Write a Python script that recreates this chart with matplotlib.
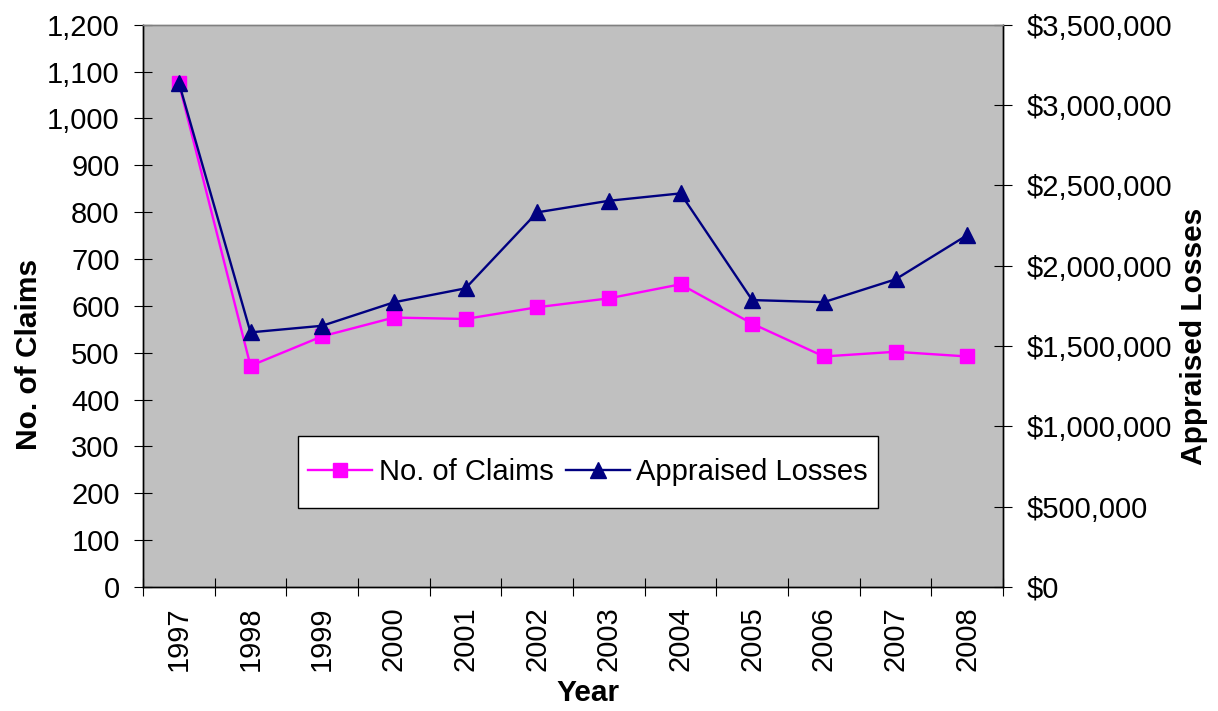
import matplotlib
matplotlib.use("Agg")
import matplotlib.pyplot as plt
from matplotlib.ticker import FuncFormatter, FixedLocator
from matplotlib.patches import Rectangle
import numpy as np

years = ["1997", "1998", "1999", "2000", "2001", "2002", "2003", "2004", "2005", "2006", "2007", "2008"]
claims = [1075, 472, 535, 575, 572, 597, 616, 646, 562, 492, 502, 492]
losses = [3140000, 1585000, 1626000, 1772000, 1859000, 2332000, 2404000, 2450000, 1786000, 1773000, 1915000, 2190000]

plt.rcParams['font.family'] = ['Liberation Sans', 'DejaVu Sans']

fig = plt.figure(figsize=(12.18, 7.11), dpi=100)
ax = fig.add_axes([143/1218, 124/711, 860/1218, 562.3/711])
ax2 = ax.twinx()

x = np.arange(len(years))
l1, = ax.plot(x, claims, color='#FF00FF', lw=1.7, marker='s', ms=10,
              mec='#FF00FF', mfc='#FF00FF', label='No. of Claims', zorder=3)
l2, = ax2.plot(x, losses, color='#000080', lw=1.7, marker='^', ms=11.5,
               mec='#000080', mfc='#000080', label='Appraised Losses', zorder=3)

ax.set_facecolor('#C0C0C0')
ax2.patch.set_visible(False)
ax.set_xlim(-0.5, len(years) - 0.5)
ax.set_ylim(0, 1200)
ax2.set_ylim(0, 3500000)

ax.set_yticks(np.arange(0, 1201, 100))
ax2.set_yticks(np.arange(0, 3500001, 500000))
ax.yaxis.set_major_formatter(FuncFormatter(lambda v, p: f"{int(v):,}"))
ax2.yaxis.set_major_formatter(FuncFormatter(lambda v, p: f"${int(v):,}"))

ax.set_xticks(x)
ax.set_xticklabels(years, rotation=90)
ax.xaxis.set_minor_locator(FixedLocator(np.arange(-0.5, len(years), 1.0)))
ax.tick_params(axis='x', which='major', length=0, pad=14, labelsize=21)
ax.tick_params(axis='x', which='minor', direction='inout', length=13, width=0.8, color='black')
ax.tick_params(axis='y', direction='inout', length=13.5, width=0.8, pad=10, labelsize=21)
ax2.tick_params(axis='y', direction='inout', length=13.5, width=0.8, pad=10, labelsize=21)

for a in (ax, ax2):
    a.spines['top'].set_color('#808080')
    a.spines['left'].set_color('black')
    a.spines['bottom'].set_color('black')
    a.spines['right'].set_color('black')
    for s in a.spines.values():
        s.set_linewidth(1.0)

ax.set_xlabel('Year', fontsize=21.5, fontweight='bold')
ax.set_ylabel('No. of Claims', fontsize=21.5, fontweight='bold')
ax2.set_ylabel('Appraised Losses', fontsize=21.5, fontweight='bold')
ax.xaxis.set_label_coords(0.5174, -0.163)
ax.yaxis.set_label_coords(-0.116, 0.414)
ax2.yaxis.set_label_coords(1.206, 0.446)

# legend box
ax2.add_patch(Rectangle((0.1799, 0.1405), 0.8547 - 0.1799, 0.2685 - 0.1405,
                        transform=ax2.transAxes, facecolor='white', edgecolor='black',
                        lw=1.0, zorder=4.5))
leg = ax2.legend([l1, l2], ['No. of Claims', 'Appraised Losses'], ncol=2, loc='center',
                 bbox_to_anchor=(0.5173, 0.2045), frameon=False, fontsize=21,
                 handlelength=2.2, handletextpad=0.22, columnspacing=0.42,
                 borderaxespad=0, borderpad=0, numpoints=1)
leg.set_zorder(5)

fig.savefig('out.png', dpi=100)
